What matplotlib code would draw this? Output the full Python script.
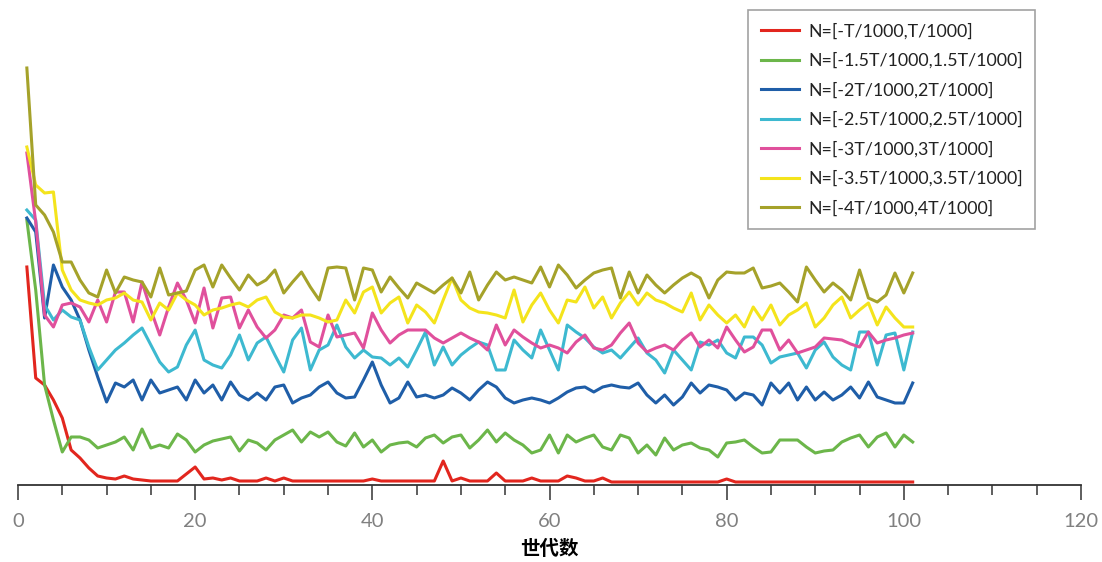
import numpy as np
import matplotlib
matplotlib.use("Agg")
import matplotlib.pyplot as plt

# generations 1..101
gens = np.arange(1, 102)

labels = ["N=[-T/1000,T/1000]", "N=[-1.5T/1000,1.5T/1000]", "N=[-2T/1000,2T/1000]",
          "N=[-2.5T/1000,2.5T/1000]", "N=[-3T/1000,3T/1000]", "N=[-3.5T/1000,3.5T/1000]",
          "N=[-4T/1000,4T/1000]"]
colors = ["#e2261e", "#6cb64a", "#1f5ea8", "#3db9d0", "#e0509c", "#f4e41c", "#a5a22a"]

# values (arbitrary units, no y scale shown)
n_1 = [218, 107, 100, 85, 67, 35, 27, 17, 9, 7, 6, 9, 6, 5, 4, 4, 4, 4, 11, 18,
       6, 7, 5, 7, 4, 4, 4, 7, 4, 7, 4, 4, 4, 4, 4, 4, 4, 4, 4, 6,
       4, 4, 4, 4, 4, 4, 4, 24, 4, 7, 4, 4, 4, 12, 4, 4, 4, 7, 4, 4,
       4, 9, 7, 4, 4, 7, 3, 3, 3, 3, 3, 3, 3, 3, 3, 3, 3, 3, 3, 6,
       3, 3, 3, 3, 3, 3, 3, 3, 3, 3, 3, 3, 3, 3, 3, 3, 3, 3, 3, 3, 3]
n_15 = [265, 195, 100, 65, 33, 48, 48, 45, 37, 40, 43, 48, 35, 56, 37, 40, 37, 51, 45, 33,
        40, 44, 46, 48, 34, 45, 42, 35, 45, 50, 55, 43, 53, 48, 53, 43, 39, 52, 38, 45,
        33, 40, 42, 43, 38, 47, 50, 42, 48, 50, 37, 45, 55, 43, 52, 45, 40, 32, 35, 50,
        32, 50, 43, 47, 50, 38, 35, 50, 47, 32, 40, 30, 47, 35, 40, 42, 37, 35, 28, 42,
        43, 45, 38, 32, 33, 45, 45, 45, 38, 32, 34, 35, 43, 47, 50, 38, 48, 52, 38, 50, 43]
n_2 = [267, 253, 167, 220, 198, 185, 165, 135, 108, 83, 102, 98, 105, 85, 105, 92, 95, 98, 85, 105,
       92, 100, 85, 103, 90, 85, 92, 85, 98, 100, 82, 87, 90, 98, 103, 92, 87, 88, 105, 123,
       100, 82, 87, 103, 88, 90, 87, 90, 97, 92, 85, 95, 103, 98, 87, 82, 85, 87, 85, 82,
       87, 93, 97, 98, 93, 98, 100, 98, 97, 102, 90, 82, 90, 80, 88, 102, 92, 100, 98, 95,
       85, 92, 90, 80, 102, 92, 102, 85, 98, 85, 93, 85, 90, 98, 87, 103, 88, 85, 82, 82, 102]
n_25 = [275, 265, 180, 165, 175, 168, 165, 138, 115, 125, 135, 142, 150, 157, 140, 123, 113, 118, 140, 155,
        125, 120, 117, 130, 150, 125, 142, 148, 130, 113, 145, 157, 115, 135, 140, 160, 138, 127, 135, 128,
        127, 120, 127, 118, 135, 153, 120, 138, 120, 130, 137, 143, 140, 115, 115, 145, 135, 127, 155, 135,
        115, 160, 153, 147, 138, 132, 135, 127, 137, 147, 132, 125, 112, 135, 125, 115, 143, 140, 145, 132,
        127, 148, 148, 140, 122, 128, 130, 132, 117, 135, 143, 128, 120, 115, 153, 153, 120, 150, 152, 115, 153]
n_3 = [332, 263, 170, 158, 180, 182, 178, 163, 185, 163, 193, 193, 163, 203, 175, 150, 178, 202, 185, 162,
       197, 157, 187, 188, 157, 175, 158, 147, 155, 170, 167, 175, 143, 138, 170, 148, 150, 152, 137, 172,
       155, 142, 150, 155, 155, 155, 147, 142, 147, 152, 147, 143, 135, 160, 140, 155, 148, 142, 137, 140,
       137, 132, 143, 150, 137, 135, 140, 152, 162, 142, 133, 137, 140, 135, 145, 152, 138, 145, 137, 158,
       145, 133, 138, 155, 155, 135, 145, 132, 135, 138, 147, 146, 145, 141, 138, 153, 142, 145, 147, 150, 152]
n_35 = [338, 300, 292, 293, 215, 195, 185, 182, 180, 185, 187, 192, 185, 183, 165, 182, 175, 192, 185, 180,
        170, 175, 177, 180, 182, 178, 185, 188, 173, 168, 167, 170, 170, 167, 163, 165, 185, 172, 193, 198,
        172, 182, 188, 162, 180, 173, 162, 185, 207, 185, 177, 173, 172, 170, 167, 195, 163, 180, 192, 175,
        162, 185, 183, 198, 177, 188, 167, 182, 193, 180, 192, 185, 182, 177, 173, 192, 165, 180, 170, 162,
        170, 158, 178, 165, 180, 160, 170, 175, 182, 158, 167, 180, 188, 167, 175, 182, 160, 178, 167, 158, 158]
n_4 = [417, 280, 270, 253, 223, 223, 205, 192, 188, 215, 192, 208, 205, 203, 188, 217, 190, 192, 194, 215,
       220, 198, 220, 207, 195, 210, 200, 205, 215, 192, 203, 213, 198, 185, 217, 218, 217, 185, 217, 215,
       193, 208, 197, 187, 202, 197, 192, 200, 207, 192, 213, 185, 200, 213, 205, 208, 205, 202, 218, 198,
       220, 210, 197, 205, 212, 215, 217, 187, 213, 192, 210, 200, 192, 200, 207, 212, 207, 187, 205, 213,
       212, 212, 217, 197, 199, 202, 193, 183, 218, 205, 193, 202, 195, 185, 215, 187, 183, 190, 212, 192, 212]

series = [n_1, n_15, n_2, n_25, n_3, n_35, n_4]

plt.rcParams['font.family'] = ['Lato', 'DejaVu Sans']

fig = plt.figure(figsize=(11.02, 5.62), dpi=100)
ax = fig.add_axes([18 / 1102, 77 / 562, 1063 / 1102, 485 / 562])

for vals, c, lab in zip(series, colors, labels):
    ax.plot(gens, vals, color=c, lw=2.2, label=lab)

ax.set_xlim(0, 120)
ax.set_ylim(0, 485)
ax.set_xticks(np.arange(0, 121, 20))
ax.set_xticks(np.arange(0, 121, 5), minor=True)
ax.tick_params(axis='x', which='major', direction='out', length=11, width=1.1,
               colors='#333333', labelcolor='#808080', labelsize=14.5, pad=9)
ax.tick_params(axis='x', which='minor', direction='out', length=7, width=1.1, colors='#333333')
ax.set_yticks([])
for s in ['top', 'right', 'left']:
    ax.spines[s].set_visible(False)
ax.spines['bottom'].set_color('#333333')
ax.spines['bottom'].set_linewidth(1.3)

ax.set_xlabel('世代数', family=['Noto Sans CJK SC', 'DejaVu Sans'], fontsize=14,
              fontweight='bold', labelpad=7)

leg = ax.legend(loc='upper left', bbox_to_anchor=(748 / 1102, 1 - 10 / 562),
                bbox_transform=fig.transFigure, borderaxespad=0, fontsize=12.8,
                frameon=True, fancybox=False, edgecolor='#8a8a8a', handlelength=2.15,
                handletextpad=0.5, labelspacing=0.74, borderpad=0.72)
leg.get_frame().set_linewidth(1.2)
for t in leg.get_texts():
    t.set_color('#222222')

fig.savefig('out.png', dpi=100)
